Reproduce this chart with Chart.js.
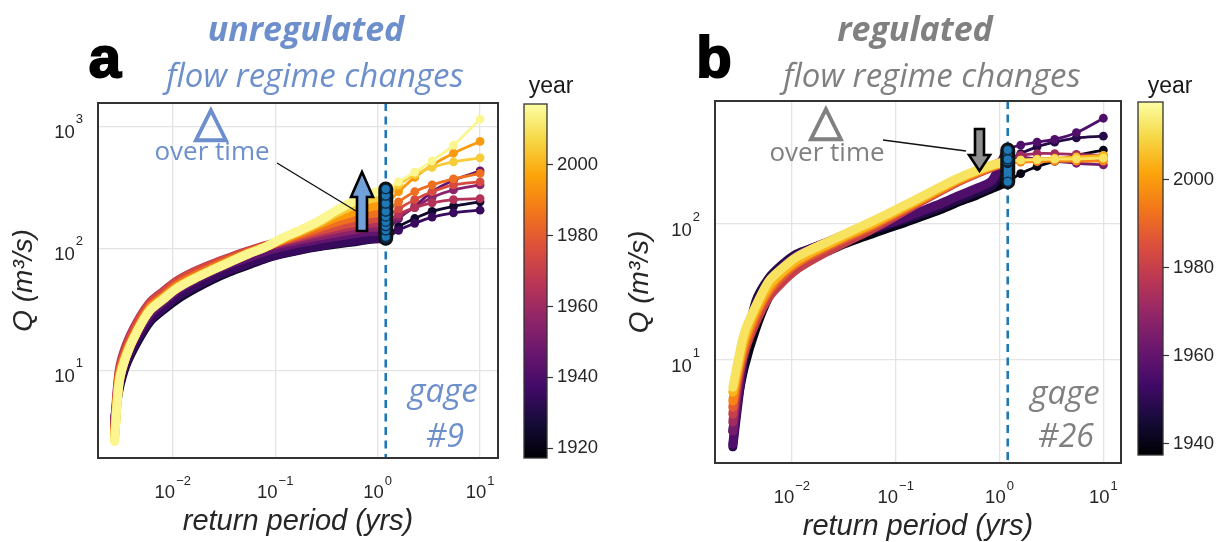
<!DOCTYPE html>
<html><head><meta charset="utf-8">
<script src="https://cdn.jsdelivr.net/npm/chart.js@4.4.1/dist/chart.umd.min.js"></script>
<style>
html,body{margin:0;padding:0;background:#fff;width:1226px;height:542px;overflow:hidden;position:relative;font-family:"Liberation Sans",Arial,sans-serif;}
canvas{position:absolute;}
.t{position:absolute;white-space:nowrap;line-height:1;transform:translate(-50%,-50%);}
.os{font-family:"Open Sans",sans-serif;}
.blue{color:#6d8fcc;}
.gray{color:#808080;}
</style></head><body>
<canvas id="ca" width="520" height="542" style="left:0;top:0;width:520px;height:542px"></canvas>
<canvas id="cb" width="520" height="542" style="left:620px;top:0;width:520px;height:542px"></canvas>
<canvas id="cba" width="110" height="542" style="left:500px;top:0;width:110px;height:542px"></canvas>
<canvas id="cbb" width="112" height="542" style="left:1114px;top:0;width:112px;height:542px"></canvas>

<div class="t" style="left:105px;top:57px;font-size:58px;font-weight:bold;-webkit-text-stroke:2px #000;">a</div>
<div class="t os blue" style="left:306px;top:28px;font-size:34px;font-weight:700;font-style:italic;">unregulated</div>
<div class="t os blue" style="left:315px;top:74px;font-size:33px;font-weight:400;font-style:italic;">flow regime changes</div>
<div class="t" style="left:714px;top:57px;font-size:58px;font-weight:bold;-webkit-text-stroke:2px #000;">b</div>
<div class="t os gray" style="left:915px;top:28px;font-size:34px;font-weight:700;font-style:italic;">regulated</div>
<div class="t os gray" style="left:932px;top:74px;font-size:33px;font-weight:400;font-style:italic;">flow regime changes</div>

<div class="t blue" style="left:211px;top:121px;font-size:44px;font-family:'DejaVu Sans';-webkit-text-stroke:1.6px #6d8fcc;">△</div>
<div class="t os blue" style="left:212px;top:150px;font-size:26px;">over time</div>
<div class="t gray" style="left:826px;top:120px;font-size:44px;font-family:'DejaVu Sans';-webkit-text-stroke:1.6px #808080;">△</div>
<div class="t os gray" style="left:827px;top:151px;font-size:26px;">over time</div>

<div class="t os blue" style="left:443px;top:389px;font-size:33px;font-style:italic;">gage</div>
<div class="t os blue" style="left:445px;top:435px;font-size:32px;font-style:italic;">#9</div>
<div class="t os gray" style="left:1065px;top:391px;font-size:33px;font-style:italic;">gage</div>
<div class="t os gray" style="left:1066px;top:435px;font-size:32px;font-style:italic;">#26</div>

<div class="t" style="left:551px;top:85px;font-size:23px;color:#1a1a1a;">year</div>
<div class="t" style="left:1170px;top:85px;font-size:23px;color:#1a1a1a;">year</div>

<svg style="position:absolute;left:0;top:0" width="1226" height="542">
 <line x1="277" y1="163" x2="356" y2="211" stroke="#111" stroke-width="1.4"/>
 <polygon points="357,231 367,231 367,197 373,197 362,172 351,197 357,197" fill="#72a0d8" stroke="#000" stroke-width="2.6"/>
 <line x1="883" y1="140" x2="966" y2="151" stroke="#111" stroke-width="1.4"/>
 <polygon points="975,129 984,129 984,155 990,155 979.5,171 969,155 975,155" fill="#8e8e8e" stroke="#000" stroke-width="2.6"/>
</svg>

<script>
// ---------- data ----------
const returnPeriod = [0.0027, 0.003, 0.0035, 0.0045, 0.006, 0.008, 0.011, 0.016, 0.024, 0.036, 0.055, 0.08, 0.12, 0.18, 0.27, 0.4, 0.6, 0.85, 1.2, 1.6, 2.3, 3.4, 5.5, 10];
const markT = 1.2;

// panel a (unregulated, gage #9), discharge m3/s per year window
const qA1925 = [4.0, 7.0, 11, 17, 25, 31, 38, 46, 55, 64, 73, 82, 90, 97, 103, 108, 113, 118, 124, 150, 175, 200, 220, 240];
const qA1935 = [3.8, 7.5, 11.5, 18, 26, 32, 40, 48, 57, 66, 75, 83, 91, 98, 104, 110, 115, 119, 121, 140, 160, 180, 195, 205];
const qA1945 = [3.5, 8.0, 13, 20, 29, 36, 45, 54, 64, 74, 84, 94, 103, 111, 118, 125, 132, 137, 140, 175, 220, 290, 360, 430];
const qA1955 = [3.4, 9.0, 15, 23, 33, 41, 51, 61, 71, 81, 92, 102, 110, 118, 126, 134, 142, 148, 152, 180, 215, 260, 300, 330];
const qA1965 = [3.5, 10, 16, 25, 36, 44, 54, 64, 74, 84, 95, 105, 114, 124, 134, 144, 153, 160, 165, 190, 215, 235, 250, 255];
const qA1975 = [3.3, 9.5, 15, 24, 35, 43, 53, 63, 73, 83, 94, 104, 115, 127, 140, 152, 163, 173, 182, 210, 250, 290, 330, 350];
const qA1985 = [3.0, 9.0, 14, 22, 33, 40, 50, 59, 69, 80, 92, 103, 117, 132, 148, 165, 180, 192, 200, 240, 290, 330, 370, 410];
const qA1995 = [2.8, 8.5, 13.5, 21, 32, 39, 48, 57, 67, 78, 91, 102, 119, 137, 157, 180, 200, 218, 232, 290, 380, 480, 600, 750];
const qA2005 = [2.7, 8.0, 13, 21, 31, 38, 47, 56, 66, 77, 90, 102, 121, 140, 163, 195, 228, 255, 270, 330, 400, 460, 510, 550];
const qA2015 = [2.6, 8.0, 13, 21, 31, 38, 47, 56, 66, 77, 90, 102, 122, 142, 168, 205, 245, 280, 305, 350, 420, 520, 700, 1140];

// panel b (regulated, gage #26)
const qB1940 = [3.0, 5.0, 9, 17, 29, 39, 48, 57, 65, 74, 83, 92, 102, 114, 128, 145, 163, 183, 205, 235, 265, 290, 320, 350];
const qB1948 = [2.3, 4.5, 11, 27, 40, 50, 60, 67, 74, 81, 89, 97, 107, 119, 134, 151, 171, 193, 290, 330, 370, 400, 430, 443];
const qB1956 = [2.4, 5.0, 11, 24, 37, 48, 58, 67, 75, 83, 91, 100, 111, 125, 141, 161, 183, 210, 350, 380, 400, 420, 470, 600];
const qB1964 = [3.0, 6.0, 12, 22, 35, 46, 56, 66, 76, 87, 100, 115, 133, 155, 181, 209, 238, 264, 300, 310, 300, 290, 280, 272];
const qB1972 = [3.5, 6.5, 12, 21, 31, 40, 50, 60, 70, 81, 94, 109, 129, 153, 180, 210, 240, 268, 300, 320, 330, 330, 325, 320];
const qB1980 = [4.0, 7.0, 11.5, 19, 29, 37, 46, 55, 65, 76, 89, 104, 124, 148, 175, 205, 235, 262, 285, 295, 300, 300, 300, 300];
const qB1988 = [4.5, 7.5, 12.5, 21, 32, 41, 51, 60, 70, 81, 94, 109, 128, 151, 178, 207, 237, 264, 285, 292, 296, 300, 305, 310];
const qB1996 = [5.0, 8.0, 13.5, 22, 33, 43, 52, 62, 72, 83, 96, 111, 130, 153, 180, 210, 240, 266, 282, 285, 288, 290, 290, 290];
const qB2004 = [5.8, 8.5, 14.5, 23.5, 35, 44, 54, 63, 73, 85, 98, 113, 133, 156, 184, 214, 244, 270, 288, 295, 300, 305, 312, 320];
const qB2012 = [6.3, 9.5, 16, 25, 38, 47, 57, 66, 76, 88, 102, 117, 137, 160, 188, 218, 248, 272, 290, 295, 298, 300, 302, 305];

const yearsA = [1925, 1935, 1945, 1955, 1965, 1975, 1985, 1995, 2005, 2015];
const yearsB = [1940, 1948, 1956, 1964, 1972, 1980, 1988, 1996, 2004, 2012];
const seriesA = [qA1925, qA1935, qA1945, qA1955, qA1965, qA1975, qA1985, qA1995, qA2005, qA2015];
const seriesB = [qB1940, qB1948, qB1956, qB1964, qB1972, qB1980, qB1988, qB1996, qB2004, qB2012];

const xTickExps = [-2, -1, 0, 1];
const yTickExpsA = [1, 2, 3];
const yTickExpsB = [1, 2];
const cbarTicksA = [1920, 1940, 1960, 1980, 2000];
const cbarTicksB = [1940, 1960, 1980, 2000];
const yearRangeA = [1917.2, 2017.2];
const yearRangeB = [1937.5, 2017.7];

// ---------- style helpers ----------
const INF = ['#000004','#160b39','#420a68','#6a176e','#932667','#bc3754','#dd513a','#f37819','#fca50a','#f6d746','#fcffa4'];
function hx(h){return [parseInt(h.slice(1,3),16),parseInt(h.slice(3,5),16),parseInt(h.slice(5,7),16)];}
function inferno(t){
  t=Math.max(0,Math.min(1,t)); const s=t*10; const i=Math.min(9,Math.floor(s)); const f=s-i;
  const a=hx(INF[i]), b=hx(INF[i+1]);
  return 'rgb('+a.map((v,k)=>Math.round(v+(b[k]-v)*f)).join(',')+')';
}
const TXT='#262626';
const FONT='"Liberation Sans", Arial, sans-serif';

const decoPlugin = {
  id:'deco',
  beforeDatasetsDraw(chart, args, o){
    const {ctx, chartArea:a, scales:{x}} = chart;
    const px = x.getPixelForValue(o.markT);
    ctx.save(); ctx.strokeStyle='#1f77b4'; ctx.lineWidth=2.6; ctx.setLineDash([8,5.5]);
    ctx.beginPath(); ctx.moveTo(px,a.top); ctx.lineTo(px,a.bottom); ctx.stroke(); ctx.restore();
  },
  afterDraw(chart, args, o){
    const {ctx, chartArea:a, scales:{x,y}} = chart;
    ctx.save();
    ctx.strokeStyle='#333'; ctx.lineWidth=2; ctx.strokeRect(a.left,a.top,a.right-a.left,a.bottom-a.top);
    ctx.fillStyle=TXT; ctx.textAlign='left'; ctx.textBaseline='alphabetic';
    const big='18.5px '+FONT, small='13px '+FONT;
    o.xExps.forEach(e=>{
      const px=x.getPixelForValue(Math.pow(10,e));
      const ex = e<0 ? '\u2212'+(-e) : String(e);
      ctx.font=big; const wb=ctx.measureText('10').width; ctx.font=small; const we=ctx.measureText(ex).width;
      const l=px-(wb+1+we)/2;
      ctx.font=big; ctx.fillText('10',l,a.bottom+40);
      ctx.font=small; ctx.fillText(ex,l+wb+1,a.bottom+27);
    });
    o.yExps.forEach(e=>{
      const py=y.getPixelForValue(Math.pow(10,e));
      const ex=String(e);
      ctx.font=small; const we=ctx.measureText(ex).width; ctx.font=big; const wb=ctx.measureText('10').width;
      const r=a.left-15;
      ctx.font=small; ctx.fillText(ex,r-we,py-3);
      ctx.font=big; ctx.fillText('10',r-we-1-wb,py+12);
    });
    ctx.restore();
  }
};

function panel(id, years, series, range, c){
  const markIdx = returnPeriod.indexOf(markT);
  const datasets = [];
  years.forEach((yr,k)=>{
    const col = inferno((yr-range[0])/(range[1]-range[0]));
    const q = series[k];
    datasets.push({
      data: returnPeriod.map((t,i)=>({x:t,y:q[i]})),
      borderColor: col, backgroundColor: col,
      pointBackgroundColor: col, pointBorderWidth:0,
      pointRadius: ctx => returnPeriod[ctx.dataIndex] > markT ? 4.4 : 0,
      borderWidth: 9, borderJoinStyle:'round', borderCapStyle:'round', tension:0.3,
      segment: { borderWidth: ctx => returnPeriod[ctx.p1DataIndex] <= markT ? 9 : 2.8 },
      order: -yr
    });
  });
  const caps = series.map(q=>q[markIdx]).sort((p,r)=>p-r).map(v=>({x:markT,y:v}));
  datasets.push({data:caps, borderColor:'#1f77b4', borderWidth:8, borderCapStyle:'round', pointRadius:4.6,
    pointBackgroundColor:'#1f77b4', pointBorderColor:'#0a2540', pointBorderWidth:1.2, tension:0, order:-100001});
  datasets.push({data:caps, borderColor:'#111', borderWidth:15, borderCapStyle:'round', pointRadius:0, tension:0, order:-100000});

  new Chart(document.getElementById(id), {
    type:'line',
    data:{datasets},
    options:{
      responsive:false, animation:false, events:[],
      layout:{padding:c.pad},
      plugins:{legend:{display:false}, tooltip:{enabled:false},
        deco:{markT, xExps:xTickExps, yExps:c.yExps}},
      scales:{
        x:{type:'logarithmic', min:c.xmin, max:c.xmax,
          afterBuildTicks:s=>{s.ticks=xTickExps.map(e=>({value:Math.pow(10,e)}));},
          afterFit:s=>{s.height=c.xH;},
          ticks:{display:false}, border:{display:false},
          grid:{color:'#e4e4e4', lineWidth:1.3, drawTicks:false},
          title:{display:true, text:'return period (yrs)', color:TXT, padding:0,
            font:{family:FONT, size:29, style:'italic', lineHeight:1}}},
        y:{type:'logarithmic', min:c.ymin, max:c.ymax,
          afterBuildTicks:s=>{s.ticks=c.yExps.map(e=>({value:Math.pow(10,e)}));},
          afterFit:s=>{s.width=c.yW;},
          ticks:{display:false}, border:{display:false},
          grid:{color:'#e4e4e4', lineWidth:1.3, drawTicks:false},
          title:{display:true, text:'Q (m\u00b3/s)', color:TXT, padding:0,
            font:{family:FONT, size:28, style:'italic', lineHeight:1}}}
      }
    },
    plugins:[decoPlugin]
  });
}

const cbarPlugin = {
  id:'cbar',
  afterDraw(chart){
    const {ctx, chartArea:a} = chart;
    const g = ctx.createLinearGradient(0,a.bottom,0,a.top);
    INF.forEach((c,i)=>g.addColorStop(i/10,c));
    ctx.save(); ctx.fillStyle=g; ctx.fillRect(a.left,a.top,a.right-a.left,a.bottom-a.top);
    ctx.strokeStyle='#333'; ctx.lineWidth=1.3; ctx.strokeRect(a.left,a.top,a.right-a.left,a.bottom-a.top);
    ctx.restore();
  }
};
function colorbar(id, range, ticks, c){
  new Chart(document.getElementById(id), {
    type:'line', data:{datasets:[]},
    options:{responsive:false, animation:false, events:[],
      layout:{padding:c.pad},
      plugins:{legend:{display:false}, tooltip:{enabled:false}},
      scales:{
        x:{type:'linear', display:false},
        y:{type:'linear', position:'right', min:range[0], max:range[1],
          afterBuildTicks:s=>{s.ticks=ticks.map(v=>({value:v}));},
          afterFit:s=>{s.width=c.yW;},
          border:{display:false},
          grid:{drawOnChartArea:false, drawTicks:true, tickLength:6, tickColor:'#333', tickWidth:1.2},
          ticks:{color:TXT, padding:4, font:{family:FONT, size:18.5}, callback:v=>String(v)}}
      }},
    plugins:[cbarPlugin]
  });
}

panel('ca', yearsA, seriesA, yearRangeA, {pad:{left:10,right:22,top:103,bottom:5.5}, xH:78.5, yW:88,
  xmin:Math.pow(10,-2.73), xmax:Math.pow(10,1.175), ymin:Math.pow(10,0.28), ymax:Math.pow(10,3.19), yExps:yTickExpsA});
panel('cb', yearsB, seriesB, yearRangeB, {pad:{left:6,right:19,top:101,bottom:0.5}, xH:78.5, yW:89,
  xmin:Math.pow(10,-2.74), xmax:Math.pow(10,1.17), ymin:Math.pow(10,0.243), ymax:Math.pow(10,2.905), yExps:yTickExpsB});
colorbar('cba', yearRangeA, cbarTicksA, {pad:{left:24,right:0,top:104,bottom:84}, yW:63});
colorbar('cbb', yearRangeB, cbarTicksB, {pad:{left:24,right:0,top:102,bottom:87}, yW:63});
</script>
</body></html>
